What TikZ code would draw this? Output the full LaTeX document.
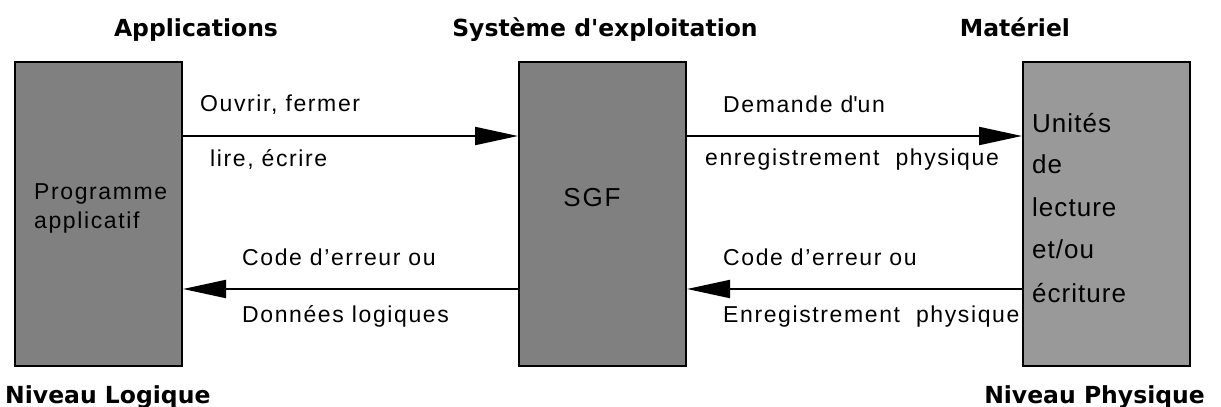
\documentclass[tikz,border=0pt]{standalone}
\usepackage{fontspec}
\usetikzlibrary{arrows.meta}
\newfontfamily\bodyf[LetterSpace=7]{Liberation Sans}
\newfontfamily\bigf[LetterSpace=4]{Liberation Sans}
\newfontfamily\ttlf{DejaVu Sans}
\definecolor{boxgray}{HTML}{808080}
\definecolor{boxlight}{HTML}{999999}
\tikzset{
  box/.style={draw=black, line width=2pt, minimum width=167pt, minimum height=304pt, inner sep=0pt, fill=boxgray},
  ttl/.style={font=\ttlf\bfseries\fontsize{23.5}{27}\selectfont, inner sep=0pt},
  lbl/.style={font=\bodyf\fontsize{23}{27}\selectfont, inner sep=0pt, anchor=base west},
  big/.style={font=\bigf\fontsize{26}{30}\selectfont, inner sep=0pt, anchor=base west},
  arr/.style={line width=2pt, -{Triangle[length=43pt,width=18pt]}}
}
\begin{document}
\begin{tikzpicture}[x=1pt,y=-1pt]
\useasboundingbox (0,0) rectangle (1221,407);
% boxes
\node[box] (A) at (98.5,214) {};
\node[box] (B) at (602.5,214) {};
\node[box, fill=boxlight] (C) at (1106.5,214) {};
% levels for arrows
\coordinate (top) at (0,136);
\coordinate (bot) at (0,289);
% titles
\node[ttl, anchor=base] (t1) at (196,36) {Applications};
\node[ttl, anchor=base] (t2) at (605,36) {Système d\textquotesingle exploitation};
\node[ttl, anchor=base] (t3) at (1015,36) {Matériel};
\node[ttl, anchor=base west] (t4) at (5,403) {Niveau Logique};
\node[ttl, anchor=base east] (t5) at (1205,403) {Niveau Physique};
% box texts
\node[lbl] (p1) at (34,199) {Programme};
\node[lbl] (p2) at (34,228) {applicatif};
\node[font=\bodyf\fontsize{26}{30}\selectfont, inner sep=0pt, anchor=base] (sgf) at (592,206) {SGF};
\node[big] (u1) at (1032,132) {Unités};
\node[big] (u2) at (1032,173) {de};
\node[big] (u3) at (1032,216) {lecture};
\node[big] (u4) at (1032,258) {et/ou};
\node[big] (u5) at (1032,302) {écriture};
% arrow labels
\node[lbl] (l1) at (200,111) {Ouvrir, fermer};
\node[lbl] (l2) at (210,166) {lire, écrire};
\node[lbl] (l3) at (242,265) {Code d’erreur ou};
\node[lbl] (l4) at (242,322) {Données logiques};
\node[lbl] (r1) at (723,112) {Demande d\textquotesingle un};
\node[lbl] (r2) at (705,165) {enregistrement~~physique};
\node[lbl] (r3) at (723,265) {Code d’erreur ou};
\node[lbl] (r4) at (723,322) {Enregistrement~~physique};
% connectors
\draw[arr] (A.east |- top) -- (B.west |- top);
\draw[arr] (B.east |- top) -- (C.west |- top);
\draw[arr] (B.west |- bot) -- (A.east |- bot);
\draw[arr] (C.west |- bot) -- (B.east |- bot);
\end{tikzpicture}
\end{document}
